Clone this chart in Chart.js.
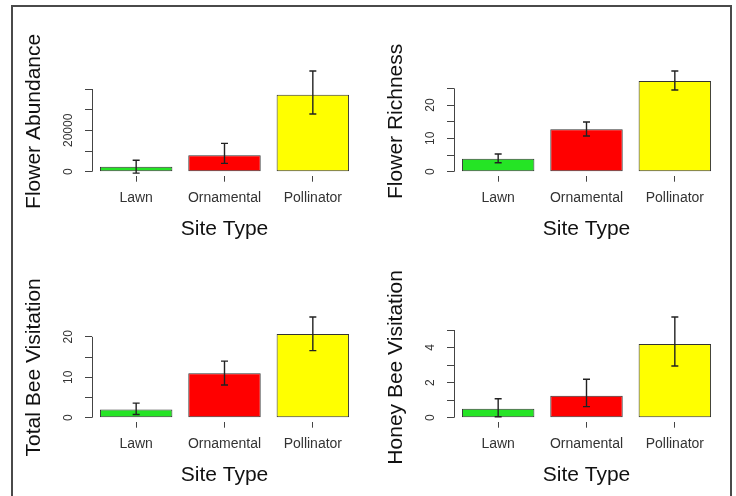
<!DOCTYPE html>
<html>
<head>
<meta charset="utf-8">
<script src="https://cdn.jsdelivr.net/npm/chart.js@4.4.1/dist/chart.umd.min.js"></script>
<style>
  html, body { margin: 0; padding: 0; background: #fff; overflow: hidden; }
  #page { position: relative; width: 736px; height: 496px; overflow: hidden; background: #fff; }
  #frame { position: absolute; left: 11px; top: 5px; width: 721px; height: 540px; border: 2px solid #4a4a4a; box-sizing: border-box; }
  canvas { position: absolute; }
</style>
</head>
<body>
<div id="page">
  <div id="frame"></div>
  <canvas id="abundance" width="366" height="246" style="left:0;top:0"></canvas>
  <canvas id="richness" width="366" height="246" style="left:362px;top:0"></canvas>
  <canvas id="totalBee" width="366" height="246" style="left:0;top:246px"></canvas>
  <canvas id="honeyBee" width="366" height="246" style="left:362px;top:246px"></canvas>
</div>
<script>
// data
const categories = ['Lawn', 'Ornamental', 'Pollinator'];

const abundance = [2400, 7900, 37200];
const abundanceLow = [-700, 4000, 27900];
const abundanceHigh = [5500, 13700, 48700];
const abundanceTicks = [0, 10000, 20000, 30000, 40000];
const abundanceTickLabels = ['0', '', '20000', '', ''];

const richness = [3.9, 12.7, 27.2];
const richnessLow = [2.7, 10.7, 24.5];
const richnessHigh = [5.3, 14.9, 30.2];
const richnessTicks = [0, 5, 10, 15, 20, 25];
const richnessTickLabels = ['0', '', '10', '', '20', ''];

const totalBee = [2.0, 11.0, 20.7];
const totalBeeLow = [0.8, 8.1, 16.6];
const totalBeeHigh = [3.6, 14.0, 24.9];
const totalBeeTicks = [0, 5, 10, 15, 20];
const totalBeeTickLabels = ['0', '', '10', '', '20'];

const honeyBee = [0.51, 1.25, 4.2];
const honeyBeeLow = [0.05, 0.63, 2.95];
const honeyBeeHigh = [1.08, 2.19, 5.74];
const honeyBeeTicks = [0, 1, 2, 3, 4, 5];
const honeyBeeTickLabels = ['0', '', '2', '', '4', ''];

const barColors = ['#25E425', '#FF0000', '#FFFF00'];
const FONT = '"Liberation Sans", Arial, sans-serif';

Chart.defaults.font.family = FONT;
Chart.defaults.animation = false;

// width of the widest tick label, so rotated labels sit at the same distance
function widest(labels) {
  const c = document.createElement('canvas').getContext('2d');
  c.font = '12px ' + FONT;
  return Math.max(...labels.map(l => c.measureText(l).width));
}

function makePanel(id, values, low, high, ticks, tickLabels, yTitle) {
  const upper = Math.max(...high);

  // error bars + R style axis line (only from first to last tick)
  const errorBars = {
    id: 'errorBars',
    afterDatasetsDraw(chart) {
      const { ctx, chartArea } = chart;
      const y = chart.scales.y;
      const ax = Math.round(chartArea.left) + 0.5;
      ctx.save();
      ctx.strokeStyle = '#444';
      ctx.lineWidth = 1;
      ctx.beginPath();
      ctx.moveTo(ax, y.getPixelForValue(ticks[0]));
      ctx.lineTo(ax, y.getPixelForValue(ticks[ticks.length - 1]));
      ctx.stroke();

      ctx.strokeStyle = '#222';
      ctx.lineWidth = 1.4;
      chart.getDatasetMeta(0).data.forEach((bar, i) => {
        const t = y.getPixelForValue(high[i]);
        const b = y.getPixelForValue(low[i]);
        ctx.beginPath();
        ctx.moveTo(bar.x, t); ctx.lineTo(bar.x, b);
        ctx.moveTo(bar.x - 3.5, t); ctx.lineTo(bar.x + 3.5, t);
        ctx.moveTo(bar.x - 3.5, b); ctx.lineTo(bar.x + 3.5, b);
        ctx.stroke();
      });
      ctx.restore();
    }
  };

  new Chart(document.getElementById(id), {
    type: 'bar',
    data: {
      labels: categories,
      datasets: [{
        data: values,
        backgroundColor: barColors,
        borderColor: '#333',
        borderWidth: 1,
        borderSkipped: false,
        barPercentage: 0.82,
        categoryPercentage: 1
      }]
    },
    options: {
      responsive: false,
      layout: { padding: { left: 0, top: 67, right: 9, bottom: 0 } },
      plugins: { legend: { display: false }, tooltip: { enabled: false } },
      scales: {
        x: {
          afterFit: s => { s.height = 70.3; },
          border: { display: false },
          grid: { offset: false, drawOnChartArea: false, drawTicks: true, tickLength: 6, color: '#444' },
          ticks: { color: '#333', font: { size: 14 }, padding: 8, autoSkip: false, maxRotation: 0 },
          title: { display: true, text: 'Site Type', color: '#111', font: { size: 21 }, padding: { top: 0, bottom: 4.4 } }
        },
        y: {
          // R barplot: ylim = c(0, max upper), extended 4% each side
          min: -0.04 * upper,
          max: 1.04 * upper,
          bounds: 'data',
          afterBuildTicks: s => { s.ticks = ticks.map(v => ({ value: v })); },
          afterFit: s => { s.width = 92; },
          border: { display: false },
          grid: { drawOnChartArea: false, drawTicks: true, tickLength: 7, color: '#444' },
          ticks: {
            minRotation: 90,
            maxRotation: 90,
            crossAlign: 'center',
            autoSkip: false,
            padding: Math.max(0, 16.7 - widest(tickLabels) / 2),
            color: '#333',
            font: { size: 12 },
            callback: (v, i) => tickLabels[i]
          },
          title: { display: true, text: yTitle, color: '#111', font: { size: 21 }, padding: { top: 22, bottom: 0 } }
        }
      }
    },
    plugins: [errorBars]
  });
}

makePanel('abundance', abundance, abundanceLow, abundanceHigh, abundanceTicks, abundanceTickLabels, 'Flower Abundance');
makePanel('richness', richness, richnessLow, richnessHigh, richnessTicks, richnessTickLabels, 'Flower Richness');
makePanel('totalBee', totalBee, totalBeeLow, totalBeeHigh, totalBeeTicks, totalBeeTickLabels, 'Total Bee Visitation');
makePanel('honeyBee', honeyBee, honeyBeeLow, honeyBeeHigh, honeyBeeTicks, honeyBeeTickLabels, 'Honey Bee Visitation');
</script>
</body>
</html>
